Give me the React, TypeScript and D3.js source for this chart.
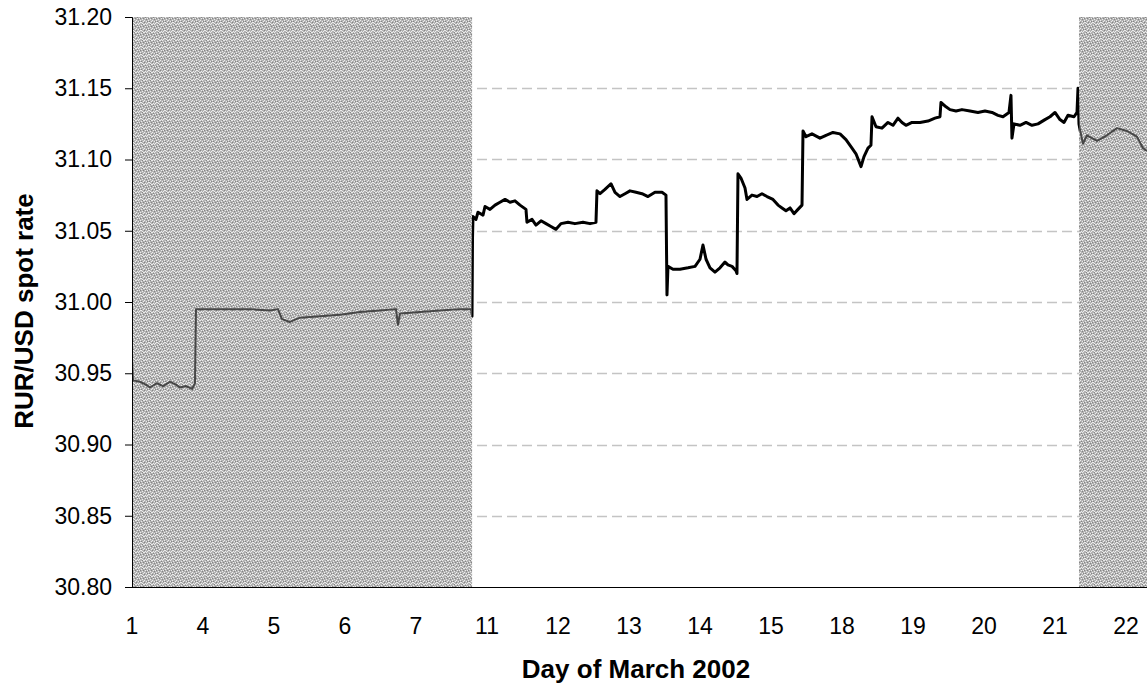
import * as d3 from "d3";
import { useEffect, useRef } from "react";

// category labels, one every 71px along the axis (position index 0..14)
const dayLabels = ["1", "4", "5", "6", "7", "11", "12", "13", "14", "15", "18", "19", "20", "21", "22"];
const yTicks = [30.8, 30.85, 30.9, 30.95, 31.0, 31.05, 31.1, 31.15, 31.2];
const gridTicks = [30.85, 30.9, 30.95, 31.0, 31.05, 31.1, 31.15];

// observation position (in label-index units) and spot rate
const obsPos = [
  0, 0.014, 0.113, 0.197, 0.254, 0.352, 0.437, 0.535, 0.62, 0.676, 0.761, 0.845, 0.887, 0.901,
  1.099, 1.38, 1.662, 1.944, 2.056, 2.113, 2.225, 2.366, 2.648, 2.93, 3.211, 3.493, 3.718, 3.746,
  3.775, 4.056, 4.338, 4.62, 4.775, 4.789, 4.796, 4.803, 4.845, 4.873, 4.944, 4.972, 5.042, 5.113,
  5.183, 5.254, 5.324, 5.394, 5.465, 5.549, 5.563, 5.634, 5.69, 5.761, 5.831, 5.901, 5.972, 6.042,
  6.141, 6.239, 6.352, 6.451, 6.535, 6.549, 6.592, 6.662, 6.746, 6.803, 6.873, 6.944, 7.014, 7.099,
  7.183, 7.268, 7.366, 7.465, 7.521, 7.535, 7.549, 7.62, 7.718, 7.831, 7.93, 8.0, 8.042, 8.085,
  8.141, 8.211, 8.282, 8.352, 8.394, 8.451, 8.507, 8.521, 8.535, 8.577, 8.634, 8.662, 8.732, 8.803,
  8.873, 8.944, 9.028, 9.099, 9.155, 9.211, 9.268, 9.324, 9.38, 9.437, 9.451, 9.493, 9.577, 9.69,
  9.775, 9.873, 9.972, 10.056, 10.141, 10.197, 10.268, 10.31, 10.366, 10.408, 10.423, 10.479,
  10.563, 10.648, 10.718, 10.789, 10.845, 10.901, 10.986, 11.099, 11.211, 11.31, 11.38, 11.394,
  11.465, 11.521, 11.606, 11.69, 11.803, 11.915, 12.014, 12.113, 12.197, 12.268, 12.352, 12.38,
  12.394, 12.423, 12.507, 12.592, 12.676, 12.761, 12.859, 12.93, 13.0, 13.07, 13.127, 13.183,
  13.268, 13.31, 13.324, 13.338, 13.352, 13.394, 13.451, 13.592, 13.732, 13.873, 14.014, 14.155,
  14.239, 14.296,
];
const spotRate = [
  30.96, 30.945, 30.944, 30.942, 30.94, 30.943, 30.941, 30.944, 30.942, 30.94, 30.941, 30.939, 30.943, 30.995,
  30.995, 30.995, 30.995, 30.994, 30.995, 30.988, 30.986, 30.989, 30.99, 30.991, 30.993, 30.994, 30.995, 30.984,
  30.992, 30.993, 30.994, 30.995, 30.995, 30.99, 31.045, 31.06, 31.058, 31.063, 31.061, 31.067, 31.065, 31.068,
  31.07, 31.072, 31.07, 31.071, 31.068, 31.065, 31.056, 31.058, 31.054, 31.057, 31.055, 31.053, 31.051, 31.055,
  31.056, 31.055, 31.056, 31.055, 31.056, 31.078, 31.076, 31.079, 31.083, 31.077, 31.074, 31.076, 31.078, 31.077,
  31.076, 31.074, 31.077, 31.077, 31.075, 31.005, 31.025, 31.023, 31.023, 31.024, 31.025, 31.03, 31.04, 31.03,
  31.024, 31.021, 31.024, 31.028, 31.026, 31.025, 31.022, 31.02, 31.09, 31.087, 31.08, 31.072, 31.075, 31.074,
  31.076, 31.074, 31.072, 31.068, 31.066, 31.064, 31.066, 31.062, 31.065, 31.068, 31.12, 31.116, 31.118, 31.115,
  31.117, 31.119, 31.118, 31.114, 31.108, 31.104, 31.095, 31.102, 31.108, 31.11, 31.13, 31.123,
  31.122, 31.126, 31.124, 31.129, 31.126, 31.124, 31.126, 31.126, 31.127, 31.129, 31.13, 31.14,
  31.137, 31.135, 31.134, 31.135, 31.134, 31.133, 31.134, 31.133, 31.131, 31.13, 31.133, 31.145,
  31.115, 31.125, 31.124, 31.126, 31.124, 31.125, 31.128, 31.13, 31.133, 31.128, 31.126, 31.131,
  31.13, 31.133, 31.15, 31.125, 31.121, 31.111, 31.117, 31.113, 31.117, 31.122, 31.12, 31.116,
  31.108, 31.106,
];

// shaded (previous / following period) bands, in position units
const shadedBands = [
  [0, 4.79],
  [13.338, 14.296],
];
const xMax = 14.296;

export default function App() {
  const ref = useRef<SVGSVGElement | null>(null);

  useEffect(() => {
    const width = 1147;
    const height = 684;
    const margin = { top: 17, right: 0, bottom: 97, left: 132 };
    const font = "Liberation Sans, Arial, sans-serif";

    const svg = d3.select(ref.current).attr("width", width).attr("height", height);
    svg.selectAll("*").remove();

    const x = d3.scaleLinear().domain([0, xMax]).range([margin.left, width - margin.right]);
    const y = d3
      .scaleLinear()
      .domain([30.8, 31.2])
      .range([height - margin.bottom, margin.top]);

    const defs = svg.append("defs");

    // stipple pattern for the shaded bands
    const pat = defs
      .append("pattern")
      .attr("id", "stipple")
      .attr("patternUnits", "userSpaceOnUse")
      .attr("width", 8)
      .attr("height", 8);
    pat.append("rect").attr("width", 8).attr("height", 8).attr("fill", "#b3b3b3");
    const light = [
      [0, 0], [2, 0], [5, 1], [1, 2], [3, 2], [6, 3], [0, 4], [4, 4], [2, 5], [7, 5], [5, 6], [1, 7], [3, 7], [6, 7],
      [7, 0], [4, 6],
    ];
    const dark = [[1, 1], [4, 2], [7, 2], [2, 3], [5, 5], [0, 6], [3, 5], [6, 0]];
    light.forEach(([px, py]) =>
      pat.append("rect").attr("x", px).attr("y", py).attr("width", 1).attr("height", 1).attr("fill", "#ececec")
    );
    dark.forEach(([px, py]) =>
      pat.append("rect").attr("x", px).attr("y", py).attr("width", 1).attr("height", 1).attr("fill", "#858585")
    );

    // clip paths: inside shaded bands / outside them
    const clipShaded = defs.append("clipPath").attr("id", "clip-shaded");
    shadedBands.forEach(([a, b]) =>
      clipShaded
        .append("rect")
        .attr("x", x(a))
        .attr("y", 0)
        .attr("width", x(b) - x(a))
        .attr("height", height)
    );
    defs
      .append("clipPath")
      .attr("id", "clip-open")
      .append("rect")
      .attr("x", x(shadedBands[0][1]))
      .attr("y", 0)
      .attr("width", x(shadedBands[1][0]) - x(shadedBands[0][1]))
      .attr("height", height);

    // gridlines
    svg
      .append("g")
      .selectAll("line")
      .data(gridTicks)
      .join("line")
      .attr("x1", margin.left)
      .attr("x2", width - margin.right)
      .attr("y1", (d) => Math.round(y(d)) + 0.5)
      .attr("y2", (d) => Math.round(y(d)) + 0.5)
      .attr("stroke", "#c4c4c4")
      .attr("stroke-width", 1.5)
      .attr("stroke-dasharray", "10,5");

    // shaded bands
    svg
      .append("g")
      .selectAll("rect")
      .data(shadedBands)
      .join("rect")
      .attr("x", (d) => x(d[0]))
      .attr("y", y(31.2))
      .attr("width", (d) => x(d[1]) - x(d[0]))
      .attr("height", y(30.8) - y(31.2))
      .attr("fill", "url(#stipple)");

    const points = obsPos.map((p, i) => [p, spotRate[i]] as [number, number]);
    const line = d3
      .line<[number, number]>()
      .x((d) => x(d[0]))
      .y((d) => y(d[1]));

    svg
      .append("path")
      .datum(points)
      .attr("d", line)
      .attr("fill", "none")
      .attr("stroke", "#474747")
      .attr("stroke-width", 2)
      .attr("stroke-linejoin", "round")
      .attr("clip-path", "url(#clip-shaded)");

    svg
      .append("path")
      .datum(points)
      .attr("d", line)
      .attr("fill", "none")
      .attr("stroke", "#000")
      .attr("stroke-width", 3)
      .attr("stroke-linejoin", "round")
      .attr("clip-path", "url(#clip-open)");

    // y axis
    const yAxis = svg
      .append("g")
      .attr("transform", `translate(${margin.left},0)`)
      .call(d3.axisLeft(y).tickValues(yTicks).tickFormat(d3.format(".2f")).tickSize(7).tickPadding(13));
    yAxis.select(".domain").attr("stroke", "#000");
    yAxis.selectAll("text").attr("font-family", font).attr("font-size", 23).attr("fill", "#000");

    // x axis baseline
    svg
      .append("line")
      .attr("x1", margin.left)
      .attr("x2", width - margin.right)
      .attr("y1", y(30.8) + 0.5)
      .attr("y2", y(30.8) + 0.5)
      .attr("stroke", "#000");

    svg
      .append("g")
      .selectAll("text")
      .data(dayLabels)
      .join("text")
      .attr("x", (d, i) => x(i))
      .attr("y", y(30.8) + 47)
      .attr("text-anchor", "middle")
      .attr("font-family", font)
      .attr("font-size", 23)
      .text((d) => d);

    // axis titles
    svg
      .append("text")
      .attr("x", 636)
      .attr("y", 678)
      .attr("text-anchor", "middle")
      .attr("font-family", font)
      .attr("font-weight", "bold")
      .attr("font-size", 26)
      .text("Day of March 2002");

    svg
      .append("text")
      .attr("transform", "translate(33,311) rotate(-90)")
      .attr("text-anchor", "middle")
      .attr("font-family", font)
      .attr("font-weight", "bold")
      .attr("font-size", 26)
      .text("RUR/USD spot rate");
  }, [ref]);

  return <svg ref={ref} style={{ position: "absolute", left: 0, top: 0, background: "#fff" }} />;
}
